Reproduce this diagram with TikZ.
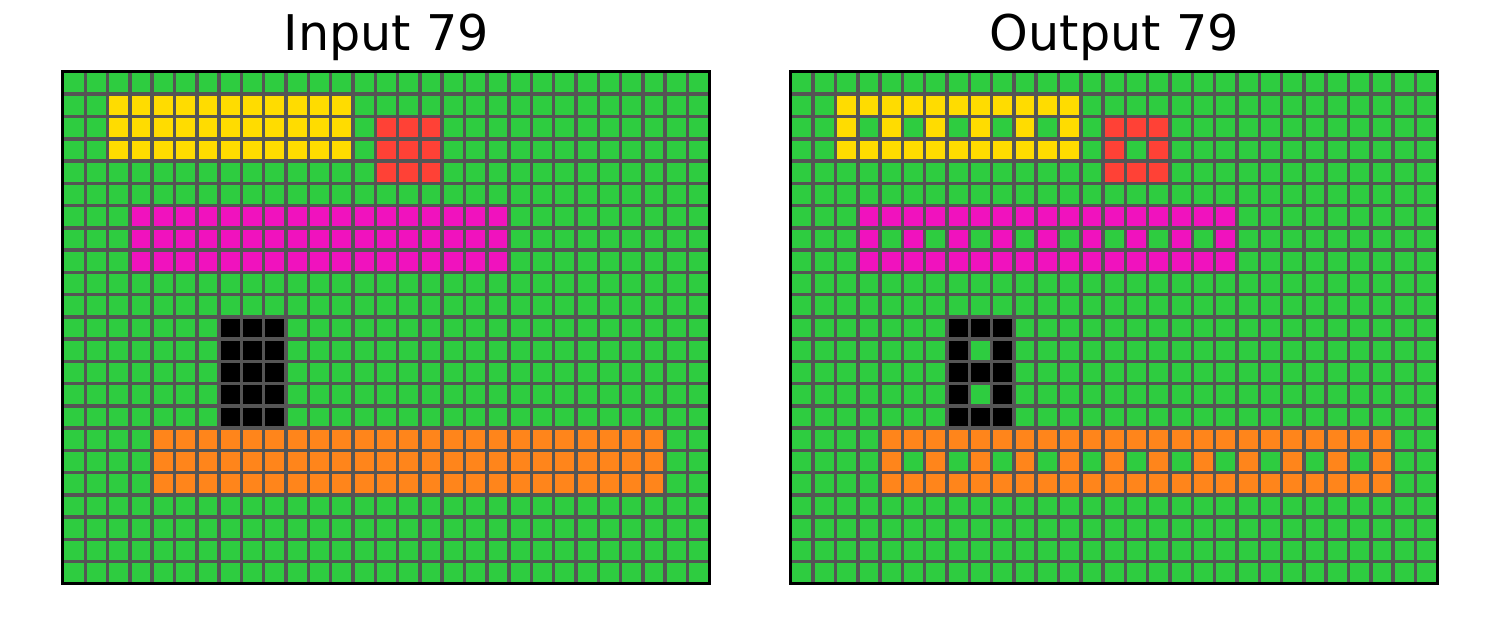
\documentclass[tikz,border=0pt]{standalone}
\usepackage{fontspec}
\setmainfont{DejaVu Sans}
\usetikzlibrary{positioning}

\definecolor{arcgreen}{HTML}{2ECC40}
\definecolor{arcyellow}{HTML}{FFDC00}
\definecolor{arcred}{HTML}{FF4136}
\definecolor{arcmagenta}{HTML}{F012BE}
\definecolor{arcorange}{HTML}{FF851B}
\definecolor{arcgray}{HTML}{555555}

\begin{document}
\begin{tikzpicture}[
  x=0.02cm, y=-0.02cm,
  title/.style={font=\fontsize{28}{34}\selectfont, anchor=base, inner sep=0pt},
  gridline/.style={draw=arcgray, line width=0.07cm},
  frame/.style={draw=black, line width=0.06cm},
]
  \useasboundingbox (0,0) rectangle (1500,629);

  \node[title] (intitle) at (386.5,50) {Input 79};
  \node[title] (outtitle) at (1114.5,50) {Output 79};

  \foreach \gx/\isout in {1.26/0, 15.82/1} {
    \begin{scope}[shift={(\gx cm,-1.44cm)}, x=0.4462cm, y=-0.4452cm]
      \fill[arcgreen] (0,0) rectangle (29,23);
      % solid blocks: colour / first col / last col / first row / last row
      \foreach \col/\ca/\cb/\ra/\rb in {arcyellow/2/12/1/3, arcred/14/16/2/4,
          arcmagenta/3/19/6/8, black/7/9/11/15, arcorange/4/26/16/18}
        \fill[\col] (\ca,\ra) rectangle (\cb+1,\rb+1);
      % holes in the output
      \ifnum\isout=1
        \foreach \ca/\cb/\ra/\rb in {2/12/1/3, 14/16/2/4, 3/19/6/8, 7/9/11/15, 4/26/16/18} {
          \pgfmathtruncatemacro{\nc}{(\cb-\ca)/2}
          \pgfmathtruncatemacro{\nr}{(\rb-\ra)/2}
          \foreach \i in {1,...,\nc}
            \foreach \j in {1,...,\nr}
              \fill[arcgreen] (\ca+2*\i-1,\ra+2*\j-1) rectangle ++(1,1);
        }
      \fi
      \foreach \c in {1,...,28}
        \draw[gridline] (\c,0) -- (\c,23);
      \foreach \r in {1,...,22}
        \draw[gridline] (0,\r) -- (29,\r);
      \draw[frame] (0,0) rectangle (29,23);
    \end{scope}
  }
\end{tikzpicture}
\end{document}
